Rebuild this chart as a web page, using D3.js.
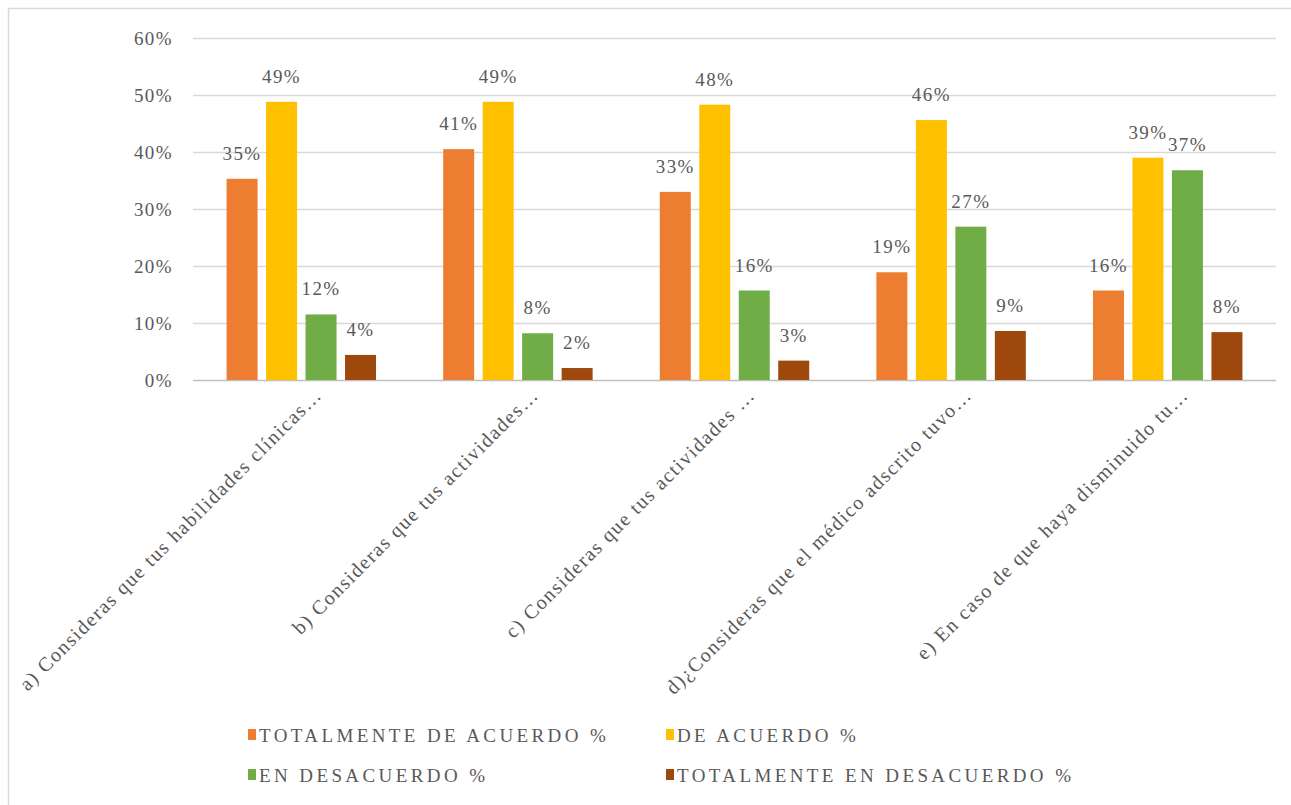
<!DOCTYPE html>
<html>
<head>
<meta charset="utf-8">
<script src="https://cdn.jsdelivr.net/npm/d3@7"></script>
<style>
  body { margin: 0; background: #fff; }
  text { font-family: "Liberation Serif", "Times New Roman", serif; fill: #595959; }
</style>
</head>
<body>
<svg id="chart" width="1291" height="805"></svg>
<script>
// data
let categories = [
  "a) Consideras que tus habilidades clínicas…",
  "b) Consideras que tus actividades…",
  "c) Consideras que tus actividades …",
  "d)¿Consideras que el médico adscrito tuvo…",
  "e) En caso de que haya disminuido tu…"
];
let seriesNames = ["TOTALMENTE DE ACUERDO %", "DE ACUERDO %", "EN DESACUERDO %", "TOTALMENTE EN DESACUERDO %"];
let totalmenteDeAcuerdo = [0.353, 0.405, 0.330, 0.189, 0.157];
let deAcuerdo = [0.488, 0.488, 0.483, 0.456, 0.390];
let enDesacuerdo = [0.115, 0.082, 0.157, 0.269, 0.368];
let totalmenteEnDesacuerdo = [0.044, 0.021, 0.034, 0.086, 0.084];
let yTicks = [0, 0.1, 0.2, 0.3, 0.4, 0.5, 0.6];
let colors = ["#ED7D31", "#FFC000", "#70AD47", "#9E480E"];

let series = [totalmenteDeAcuerdo, deAcuerdo, enDesacuerdo, totalmenteEnDesacuerdo];

let svg = d3.select('#chart');

// chart frame
svg.append('rect')
    .attr('x', 8.5).attr('y', 8.5)
    .attr('width', 1300).attr('height', 820)
    .attr('fill', 'none')
    .attr('stroke', '#d9d9d9')
    .attr('stroke-width', 1.5);

let y = d3.scaleLinear().domain([0, 0.6]).range([380, 38]);
let x0 = d3.scaleBand().domain(d3.range(categories.length))
    .range([193, 1276]).paddingInner(0.31).paddingOuter(0.155);
let x1 = d3.scaleBand().domain(d3.range(series.length))
    .range([0, x0.bandwidth()]).paddingInner(0.215).paddingOuter(0);

let pct = d3.format('.0%');

// gridlines + y tick labels
let yAxis = d3.axisLeft(y).tickValues(yTicks).tickFormat(pct)
    .tickSize(-(1276 - 193)).tickPadding(20);
let gy = svg.append('g').attr('transform', 'translate(193,0)').call(yAxis);
gy.select('.domain').remove();
gy.selectAll('.tick line').attr('stroke', '#d9d9d9').attr('stroke-width', 1.5);
gy.selectAll('.tick text')
    .attr('font-size', '19px')
    .attr('letter-spacing', '1.4px')
    .attr('fill', '#595959');
gy.selectAll('.tick').filter(d => d === 0).select('line').attr('stroke', '#bfbfbf');

// bars
let groups = svg.append('g').selectAll('g')
    .data(categories)
    .join('g')
    .attr('transform', (d, i) => 'translate(' + x0(i) + ',0)');

groups.each(function(cat, ci) {
    let g = d3.select(this);
    let vals = series.map((s, si) => ({si: si, v: s[ci]}));
    g.selectAll('rect')
        .data(vals)
        .join('rect')
        .attr('x', d => x1(d.si))
        .attr('y', d => y(d.v))
        .attr('width', x1.bandwidth())
        .attr('height', d => y(0) - y(d.v))
        .attr('fill', d => colors[d.si]);
    g.selectAll('text')
        .data(vals)
        .join('text')
        .attr('x', d => x1(d.si) + x1.bandwidth() / 2)
        .attr('y', d => y(d.v) - 19)
        .attr('text-anchor', 'middle')
        .attr('font-size', '19px')
        .attr('letter-spacing', '1.4px')
        .text(d => pct(d.v));
});

// category labels, rotated
svg.append('g').selectAll('text')
    .data(categories)
    .join('text')
    .attr('transform', (d, i) => 'translate(' + (x0(i) + x0.bandwidth() / 2 + 22) + ',396) rotate(-45)')
    .attr('text-anchor', 'end')
    .attr('font-size', '20px')
    .attr('letter-spacing', '1.5px')
    .text(d => d);

// legend
let legendPos = [[248, 735], [666, 735], [248, 775], [666, 775]];
let legend = svg.append('g').selectAll('g')
    .data(seriesNames)
    .join('g')
    .attr('transform', (d, i) => 'translate(' + legendPos[i][0] + ',' + legendPos[i][1] + ')');
legend.append('rect')
    .attr('x', 0).attr('y', -6)
    .attr('width', 8).attr('height', 11)
    .attr('fill', (d, i) => colors[i]);
legend.append('text')
    .attr('x', 11).attr('y', 6.5)
    .attr('font-size', '19px')
    .attr('letter-spacing', '3.4px')
    .text(d => d);
</script>
</body>
</html>
